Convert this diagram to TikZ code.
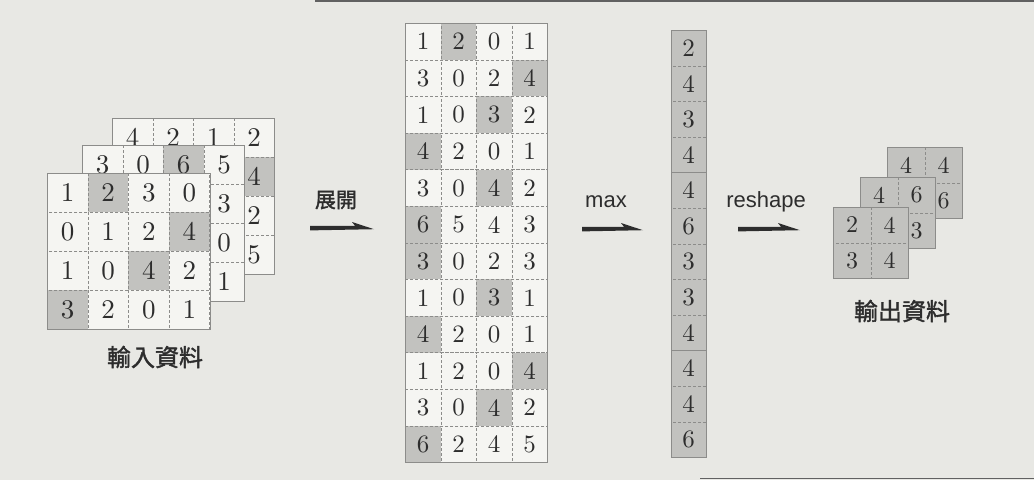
\documentclass[tikz,border=0pt]{standalone}
\usepackage{fontspec}
\newfontfamily\cjk{Noto Sans CJK TC}[FakeBold=1.6]
\newfontfamily\lsans{Liberation Sans}
\newfontfamily\dig{lmroman10-regular.otf}
\usetikzlibrary{calc}
\definecolor{bg}{RGB}{232,232,228}
\definecolor{cellw}{RGB}{245,245,242}
\definecolor{cellg}{RGB}{194,194,191}
\definecolor{ink}{RGB}{45,45,45}
\definecolor{gridline}{RGB}{140,140,138}
\tikzset{
  cell/.style={draw=gridline, densely dashed, line width=0.5pt, text=ink, inner sep=0pt, anchor=north west},
  frame/.style={draw=gridline, line width=0.8pt},
  lab/.style={text=ink, inner sep=0pt},
  harp/.style={fill=ink, draw=none},
  pageline/.style={draw=ink!75, line width=1.1pt},
}
% #1 name, #2 x0, #3 y0, #4 w, #5 h, #6 font size, #7 last row, #8 last col, #9 list r/c/v/colour
\newcommand\drawgrid[9]{%
  \foreach \r/\c/\v/\g in {#9} {
    \node[cell, fill=\g, minimum width=#4, minimum height=#5,
          font=\dig\fontsize{#6}{#6}\selectfont] (#1-\r-\c) at ({#2+\c*#4},{#3+\r*#5}) {\v};
  }
  \draw[frame] (#1-0-0.north west) rectangle (#1-#7-#8.south east);
}
\newcommand\harpoon[2]{%
  \fill[harp] ($(#1)+(0,2.4)$) -- ($(#1)+(0,-2.2)$) -- ($(#2)+(-19,-2.2)$)
     -- ($(#2)+(-22,-6)$) -- ($(#2)+(0,1.2)$) -- cycle;
}
\begin{document}
\begin{tikzpicture}[x=1pt,y=-1pt]
\useasboundingbox (0,0) rectangle (1034,480);
\fill[bg] (0,0) rectangle (1034,480);
\draw[pageline] (315,1) -- (1034,1);
\draw[pageline] (700,478.6) -- (1034,478.6);

% ---------- input data (three channels) ----------
\drawgrid{ib}{112}{118}{40.5}{39}{27}{3}{3}{%
  0/0/4/cellw, 0/1/2/cellw, 0/2/1/cellw, 0/3/2/cellw,
  1/0/{}/cellw, 1/1/{}/cellw, 1/2/{}/cellw, 1/3/4/cellg,
  2/0/{}/cellw, 2/1/{}/cellw, 2/2/{}/cellw, 2/3/2/cellw,
  3/0/{}/cellw, 3/1/{}/cellw, 3/2/{}/cellw, 3/3/5/cellw}
\drawgrid{im}{82}{145}{40.5}{39}{27}{3}{3}{%
  0/0/3/cellw, 0/1/0/cellw, 0/2/6/cellg, 0/3/5/cellw,
  1/0/{}/cellw, 1/1/{}/cellw, 1/2/{}/cellw, 1/3/3/cellw,
  2/0/{}/cellw, 2/1/{}/cellw, 2/2/{}/cellw, 2/3/0/cellw,
  3/0/{}/cellw, 3/1/{}/cellw, 3/2/{}/cellw, 3/3/1/cellw}
\drawgrid{if}{47}{173}{40.6}{39}{27}{3}{3}{%
  0/0/1/cellw, 0/1/2/cellg, 0/2/3/cellw, 0/3/0/cellw,
  1/0/0/cellw, 1/1/1/cellw, 1/2/2/cellw, 1/3/4/cellg,
  2/0/1/cellw, 2/1/0/cellw, 2/2/4/cellg, 2/3/2/cellw,
  3/0/3/cellg, 3/1/2/cellw, 3/2/0/cellw, 3/3/1/cellw}
\node[lab, font=\cjk\fontsize{24}{24}\selectfont] (lin) at (155,357) {輸入資料};

% ---------- expanded ----------
\drawgrid{ex}{405}{23}{35.5}{36.6}{25}{11}{3}{%
  0/0/1/cellw, 0/1/2/cellg, 0/2/0/cellw, 0/3/1/cellw,
  1/0/3/cellw, 1/1/0/cellw, 1/2/2/cellw, 1/3/4/cellg,
  2/0/1/cellw, 2/1/0/cellw, 2/2/3/cellg, 2/3/2/cellw,
  3/0/4/cellg, 3/1/2/cellw, 3/2/0/cellw, 3/3/1/cellw,
  4/0/3/cellw, 4/1/0/cellw, 4/2/4/cellg, 4/3/2/cellw,
  5/0/6/cellg, 5/1/5/cellw, 5/2/4/cellw, 5/3/3/cellw,
  6/0/3/cellg, 6/1/0/cellw, 6/2/2/cellw, 6/3/3/cellw,
  7/0/1/cellw, 7/1/0/cellw, 7/2/3/cellg, 7/3/1/cellw,
  8/0/4/cellg, 8/1/2/cellw, 8/2/0/cellw, 8/3/1/cellw,
  9/0/1/cellw, 9/1/2/cellw, 9/2/0/cellw, 9/3/4/cellg,
  10/0/3/cellw, 10/1/0/cellw, 10/2/4/cellg, 10/3/2/cellw,
  11/0/6/cellg, 11/1/2/cellw, 11/2/4/cellw, 11/3/5/cellw}

% ---------- max column ----------
\drawgrid{mx}{671}{30}{34.5}{35.6}{25}{11}{0}{%
  0/0/2/cellg, 1/0/4/cellg, 2/0/3/cellg, 3/0/4/cellg,
  4/0/4/cellg, 5/0/6/cellg, 6/0/3/cellg, 7/0/3/cellg,
  8/0/4/cellg, 9/0/4/cellg, 10/0/4/cellg, 11/0/6/cellg}

% ---------- output data ----------
\drawgrid{ob}{887}{147}{37.5}{35.5}{24}{1}{1}{%
  0/0/4/cellg, 0/1/4/cellg, 1/0/{}/cellg, 1/1/6/cellg}
\drawgrid{om}{860}{177}{37.5}{35.5}{24}{1}{1}{%
  0/0/4/cellg, 0/1/6/cellg, 1/0/{}/cellg, 1/1/3/cellg}
\drawgrid{of}{833}{207}{37.5}{35.5}{24}{1}{1}{%
  0/0/2/cellg, 0/1/4/cellg, 1/0/3/cellg, 1/1/4/cellg}
\node[lab, font=\cjk\fontsize{24}{24}\selectfont] (lout) at (902,311) {輸出資料};

% ---------- arrows and labels ----------
\coordinate (e1s) at (310,228); \coordinate (e1e) at (374,228);
\coordinate (m1s) at (582,229); \coordinate (m1e) at (643,229);
\coordinate (r1s) at (738,229); \coordinate (r1e) at (800,229);
\harpoon{e1s}{e1e}
\harpoon{m1s}{m1e}
\harpoon{r1s}{r1e}
\node[lab, font=\cjk\fontsize{21}{21}\selectfont] (lexp) at (336,200) {展開};
\node[lab, font=\lsans\fontsize{22}{22}\selectfont] (lmax) at (606,202) {max};
\node[lab, font=\lsans\fontsize{22}{22}\selectfont] (lres) at (766,202) {reshape};
\end{tikzpicture}
\end{document}
